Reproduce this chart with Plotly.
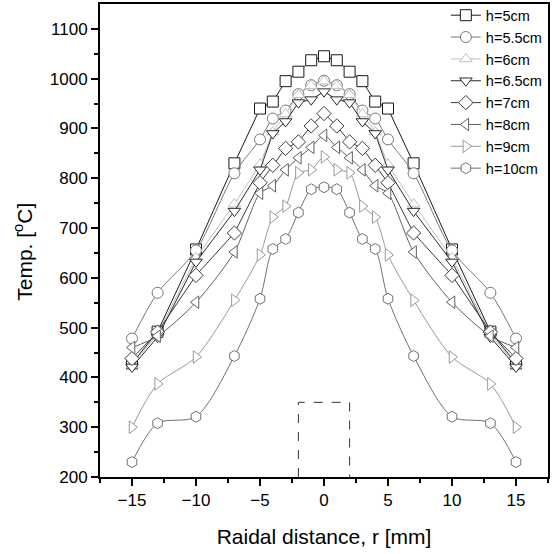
import plotly.graph_objects as go

r_mm = [-15, -13, -10, -7, -5, -4, -3, -2, -1, 0, 1, 2, 3, 4, 5, 7, 10, 13, 15]

def sym(half):
    # half: values from r=-15 up to r=0; mirrored for positive r
    return half + half[-2::-1]

t_h5 = sym([428, 492, 657, 830, 940, 954, 995, 1014, 1037, 1045])
t_h55 = sym([478, 570, 655, 810, 878, 920, 936, 969, 987, 996])
t_h6 = sym([425, 487, 640, 748, 828, 893, 929, 968, 986, 995])
t_h65 = sym([421, 481, 632, 734, 817, 890, 914, 952, 958, 974])
t_h7 = sym([438, 491, 605, 690, 791, 826, 860, 873, 905, 930])
t_h8 = sym([460, 483, 551, 652, 770, 785, 817, 841, 862, 886])
t_h9 = sym([300, 387, 441, 555, 646, 722, 744, 811, 817, 843])
t_h10 = sym([230, 308, 321, 443, 558, 658, 678, 731, 778, 782])

labels = ["h=5cm", "h=5.5cm", "h=6cm", "h=6.5cm", "h=7cm", "h=8cm", "h=9cm", "h=10cm"]
series = [t_h5, t_h55, t_h6, t_h65, t_h7, t_h8, t_h9, t_h10]

rect_x = [-2, -2, 2, 2]
rect_y = [200, 350, 350, 200]

styles = [
    ("square", "#1a1a1a", "linear"),
    ("circle", "#777777", "spline"),
    ("triangle-up", "#c0c0c0", "linear"),
    ("triangle-down", "#2a2a2a", "linear"),
    ("diamond", "#3a3a3a", "linear"),
    ("triangle-left", "#606060", "spline"),
    ("triangle-right", "#999999", "spline"),
    ("hexagon", "#707070", "spline"),
]

fig = go.Figure()
for lab, ys, (sym_, col, shape) in zip(labels, series, styles):
    fig.add_trace(go.Scatter(
        x=r_mm, y=ys, name=lab, mode="lines+markers",
        line=dict(color=col, width=1, shape=shape, smoothing=0.8),
        marker=dict(symbol=sym_, size=11, color="white",
                    line=dict(color=col, width=1)),
    ))

fig.add_trace(go.Scatter(
    x=rect_x, y=rect_y, mode="lines", showlegend=False,
    line=dict(color="#333333", width=1, dash="dash"), hoverinfo="skip",
))

font = "Arial, Liberation Sans, sans-serif"
fig.update_layout(
    width=558, height=554,
    margin=dict(l=100, r=10, t=4, b=77, autoexpand=False),
    paper_bgcolor="white", plot_bgcolor="white",
    font=dict(family=font, size=17, color="black"),
    showlegend=True,
    legend=dict(x=0.772, y=1.01, xanchor="left", yanchor="top",
                bgcolor="rgba(0,0,0,0)", borderwidth=0,
                font=dict(size=14.5), tracegroupgap=0, itemwidth=30),
    xaxis=dict(
        range=[-17.5, 17.5], tickmode="array",
        tickvals=[-15, -10, -5, 0, 5, 10, 15],
        ticks="outside", ticklen=7, tickwidth=1.5, tickcolor="black",
        minor=dict(tickvals=[-17.5, -12.5, -7.5, -2.5, 2.5, 7.5, 12.5, 17.5],
                   ticks="outside", ticklen=4, tickwidth=1.5, tickcolor="black"),
        showline=True, linecolor="black", linewidth=2, mirror=True,
        showgrid=False, zeroline=False,
        title=dict(text="Raidal distance, r [mm]", font=dict(size=21), standoff=20),
    ),
    yaxis=dict(
        range=[200, 1150], tickmode="array",
        tickvals=[200, 300, 400, 500, 600, 700, 800, 900, 1000, 1100],
        ticks="outside", ticklen=7, tickwidth=1.5, tickcolor="black",
        minor=dict(tickvals=[250, 350, 450, 550, 650, 750, 850, 950, 1050],
                   ticks="outside", ticklen=4, tickwidth=1.5, tickcolor="black"),
        showline=True, linecolor="black", linewidth=2, mirror=True,
        showgrid=False, zeroline=False,
    ),
    annotations=[dict(
        text="Temp. [<sup>o</sup>C]", xref="paper", yref="paper",
        x=-0.172, y=0.476, xanchor="center", yanchor="middle",
        textangle=-90, showarrow=False, font=dict(size=21),
    )],
)

fig.write_html("out.html")
